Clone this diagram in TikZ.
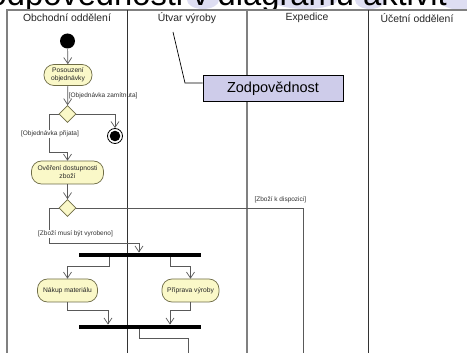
\documentclass[tikz,border=0pt]{standalone}
\usepackage{fontspec}
\setmainfont{Liberation Sans}
\usetikzlibrary{arrows.meta,shapes.geometric}
\definecolor{notefill}{RGB}{206,204,234}
\definecolor{slidebg}{RGB}{222,222,242}
\definecolor{actfill}{RGB}{250,248,200}
\definecolor{actline}{RGB}{110,108,70}
\begin{document}
\begin{tikzpicture}[x=1pt,y=-1pt,
  lanedark/.style={draw=black!80, line width=0.9pt},
  lanegray/.style={draw=black!50, line width=1.2pt},
  head/.style={font=\fontsize{10.4}{12}\selectfont, text=black!85, inner sep=0},
  action/.style={draw=actline, fill=actfill, line width=0.7pt,
    rounded corners=10pt, minimum height=23, inner sep=1pt, align=center,
    font=\fontsize{6.7}{8}\selectfont, text=black!85},
  decision/.style={diamond, draw=actline, fill=actfill, line width=0.7pt,
    minimum width=17, minimum height=17, inner sep=0},
  bar/.style={fill=black, minimum width=122, minimum height=4.5, inner sep=0},
  flow/.style={draw=black!65, line width=0.7pt, -{Straight Barb[length=6pt,width=8pt]}},
  plain/.style={draw=black!65, line width=0.7pt},
  guard/.style={font=\fontsize{6.5}{7}\selectfont, text=black!80, inner sep=0.6pt},
  notebox/.style={draw=black, fill=notefill, line width=0.8pt,
    minimum width=140, minimum height=26, inner sep=0,
    font=\fontsize{14.5}{16}\selectfont}]

\useasboundingbox (0,0) rectangle (467,353);
\clip (0,0) rectangle (467,353);
\fill[white] (0,0) rectangle (467,353);

% slide background patches behind the title
\fill[slidebg] (203,0) ellipse (16 and 9);
\fill[slidebg] (305,0) ellipse (32 and 9);
\fill[slidebg] (370,0) ellipse (15 and 9);
\fill[slidebg] (462,0) ellipse (22 and 10);

% slide title, partly hidden under the diagram sheet
\node[anchor=base east, inner sep=0, font=\fontsize{32.7}{36}\selectfont]
  (title) at (447,6) {odpovědnosti v diagramu aktivit};

% white sheet of the diagram
\fill[white] (0,9) rectangle (467,353);

% swimlanes
\draw[lanegray] (7,360) -- (7,10) -- (480,10);
\draw[lanedark] (127,10) -- (127,360);
\draw[lanegray] (247,10) -- (247,360);
\draw[lanedark] (368,10) -- (368,360);

\node[head] (h1) at (67,18) {Obchodní oddělení};
\node[head] (h2) at (187,18) {Útvar výroby};
\node[head] (h3) at (307,18) {Expedice};
\node[head] (h4) at (417,18) {Účetní oddělení};

% note
\node[notebox] (note) at (273,88.5) {Zodpovědnost};
\coordinate (nt) at (173,32);
\coordinate (nk) at (185,83);
\draw[draw=black, line width=0.7pt] (nt) -- (nk) -- (nk -| note.west);

% activity nodes
\node[circle, fill=black, minimum size=15, inner sep=0] (init) at (67.5,41) {};
\node[action, minimum width=48, minimum height=21] (pos) at (68,75) {Posouzení\\objednávky};
\node[decision] (d1) at (67.5,114) {};
\node[circle, draw=black, line width=0.8pt, minimum size=15, inner sep=0] (fin) at (115,136) {};
\fill (fin.center) circle (5.3);
\node[action, minimum width=72] (ov) at (67.5,172.5) {Ověření dostupnosti\\zboží};
\node[decision] (d2) at (67.5,208) {};
\node[bar] (fork) at (140,255) {};
\node[action, minimum width=60] (nak) at (67.5,290.5) {Nákup materiálu};
\node[action, minimum width=57] (prip) at (190.5,290.5) {Příprava výroby};
\node[bar] (join) at (140,327) {};

% bend points and free ends
\coordinate (c1) at (49,152);
\coordinate (c2) at (49,243);
\coordinate (c3) at (139,243);
\coordinate (fa) at (109,266);
\coordinate (fb) at (170,266);
\coordinate (ja) at (108,310);
\coordinate (jb) at (170,310);
\coordinate (jc) at (139,338);
\coordinate (out1) at (303,362);
\coordinate (out2) at (188,362);

% control flow
\draw[flow] (init) -- (pos);
\draw[flow] (pos) -- (d1);
\draw[flow] (d1.east) -| (fin.north);
\draw[flow] (d1.west) -| (c1) -| (ov.north);
\draw[flow] (ov) -- (d2);
\draw[plain] (d2.east) -| (out1);
\draw[flow] (d2.west) -| (c2) -- (c3) -- (c3 |- fork.north);
\draw[flow] (fork.south -| fa) -- (fa) -| (nak.north);
\draw[flow] (fork.south -| fb) -- (fb) -| (prip.north);
\draw[flow] (nak.south) |- (ja) -- (ja |- join.north);
\draw[flow] (prip.south) |- (jb) -- (jb |- join.north);
\draw[plain] (join.south -| jc) -- (jc) -| (out2);

% guards
\node[guard, anchor=west] (g1) at (68,96) {[Objednávka zamítnuta]};
\node[guard, fill=white] (g2) at (50,134) {[Objednávka přijata]};
\node[guard, anchor=east] (g3) at (307,200) {[Zboží k dispozici]};
\node[guard, fill=white] (g4) at (75.5,234) {[Zboží musí být vyrobeno]};
\end{tikzpicture}
\end{document}
